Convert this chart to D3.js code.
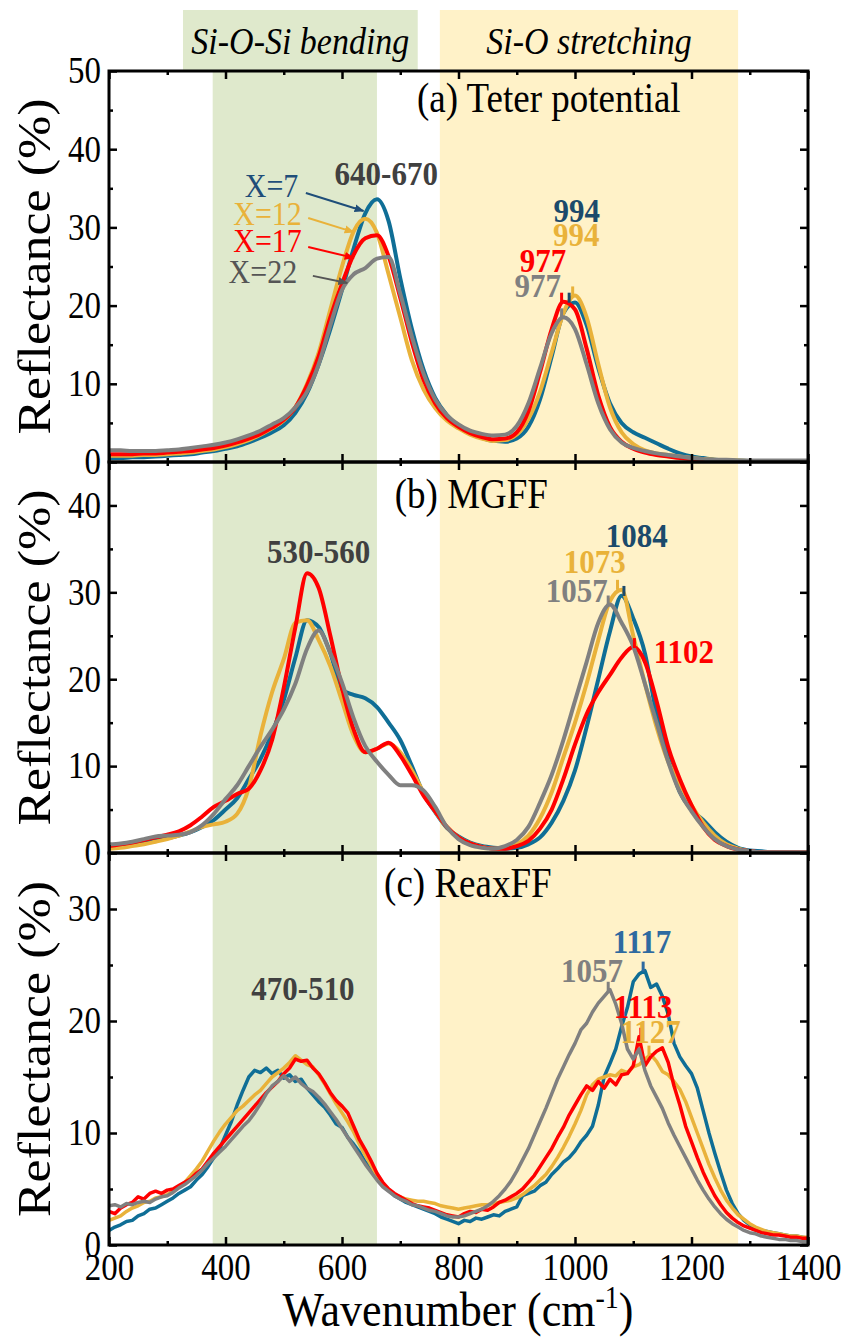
<!DOCTYPE html>
<html lang="en">
<head>
<meta charset="UTF-8">
<title>Reflectance spectra</title>
<script src="https://d3js.org/d3.v7.min.js"></script>
<style>
  body { margin: 0; background: #fff; }
  svg text { font-family: "Liberation Serif", "Times New Roman", serif; }
</style>
</head>
<body>
<svg id="chart" width="848" height="1338"></svg>
<script>
// sampling grids (cm-1)
const wn20 = d3.range(200, 1401, 20);
const wn10 = d3.range(200, 1401, 10);

const seriesNames = ["X=7", "X=12", "X=17", "X=22"];
const seriesColors = ["#0f6e96", "#e9b23a", "#ff0000", "#808080"];

// (a) Teter potential
const aBlue = [0.5,0.5,0.6,0.6,0.7,0.8,0.9,1.0,1.2,1.4,
  1.7,2.0,2.5,3.1,3.8,4.7,6.3,8.8,12.5,17.0,
  22.0,27.3,31.8,33.6,30.8,23.5,17.0,11.8,8.2,6.0,
  4.6,3.7,3.1,2.7,2.6,3.0,4.5,8.0,13.5,19.0,
  20.4,17.5,12.0,7.5,5.0,3.8,3.1,2.4,1.7,1.1,
  0.7,0.5,0.3,0.2,0.2,0.1,0.1,0.1,0.1,0.1,0.1];
const aOrange = [0.8,0.8,0.8,0.9,0.9,1.0,1.1,1.2,1.4,1.6,
  1.9,2.3,2.8,3.5,4.3,5.3,7.0,10.0,14.0,19.5,
  25.0,29.5,31.1,29.3,24.0,18.5,13.0,9.3,6.9,5.3,
  4.3,3.5,3.0,2.7,2.8,3.5,5.5,9.0,14.0,19.0,
  21.3,18.5,12.5,7.0,3.8,2.3,1.5,1.1,0.9,0.7,
  0.5,0.4,0.3,0.2,0.2,0.1,0.1,0.1,0.1,0.1,0.1];
const aRed = [1.0,1.0,1.0,1.1,1.1,1.2,1.3,1.4,1.6,1.8,
  2.1,2.5,3.0,3.6,4.4,5.4,7.0,9.8,13.5,18.5,
  22.8,26.5,28.6,29.0,26.3,21.0,15.3,10.5,7.5,5.6,
  4.5,3.7,3.2,2.9,3.0,3.8,6.5,11.5,17.0,20.5,
  19.5,14.5,8.5,4.5,2.6,1.7,1.2,0.9,0.7,0.5,
  0.4,0.3,0.2,0.2,0.1,0.1,0.1,0.1,0.1,0.1,0.1];
const aGray = [1.5,1.5,1.4,1.4,1.4,1.5,1.6,1.8,2.0,2.2,
  2.5,2.9,3.4,4.0,4.8,5.6,7.0,9.0,12.5,17.5,
  22.0,24.0,24.8,26.0,26.2,21.5,16.0,11.3,8.0,6.0,
  4.8,4.0,3.6,3.4,3.5,4.6,7.5,12.0,16.5,18.5,
  17.0,12.5,7.5,4.2,2.5,1.8,1.4,1.1,0.9,0.7,
  0.5,0.4,0.3,0.3,0.2,0.2,0.2,0.2,0.2,0.2,0.2];

// (b) MGFF
const bBlue = [0.8,0.9,1.1,1.3,1.5,1.7,2.0,2.4,3.0,3.8,
  5.0,6.3,8.5,10.8,13.8,17.6,22.5,26.8,26.0,23.0,
  18.8,18.2,17.8,16.8,15.0,13.0,10.0,6.8,4.7,2.9,
  1.9,1.2,0.8,0.6,0.5,0.6,1.0,1.8,3.5,6.0,
  9.5,14.5,20.0,25.5,29.6,27.0,23.0,16.0,11.0,7.0,
  5.0,3.8,2.4,1.3,0.6,0.3,0.2,0.1,0.1,0.1,0.1];
const bOrange = [0.5,0.6,0.8,1.0,1.3,1.6,2.0,2.5,3.0,3.3,
  3.6,4.5,7.5,13.5,18.5,22.3,26.5,26.8,24.5,21.5,
  17.5,13.5,11.6,12.0,12.6,11.6,9.5,7.0,4.8,3.0,
  1.8,1.1,0.7,0.5,0.6,1.0,2.0,4.0,7.0,11.0,
  15.0,19.5,24.5,29.0,30.3,25.0,19.5,14.5,10.5,8.0,
  5.5,3.5,2.0,1.0,0.5,0.2,0.1,0.1,0.1,0.1,0.1];
const bRed = [0.8,1.0,1.2,1.5,1.8,2.1,2.5,3.2,4.2,5.3,
  6.0,6.8,7.4,9.5,13.0,19.0,26.0,32.2,30.5,25.0,
  19.0,14.2,11.6,12.0,12.7,11.2,9.0,6.6,4.8,3.0,
  1.8,1.1,0.7,0.5,0.5,0.8,1.4,2.8,5.0,8.5,
  12.5,16.0,18.5,20.5,22.5,23.7,22.0,17.5,12.2,8.5,
  5.5,3.0,1.5,0.8,0.4,0.2,0.1,0.1,0.1,0.1,0.1];
const bGray = [1.0,1.1,1.3,1.6,1.9,2.0,2.1,2.4,3.2,4.5,
  6.2,7.8,10.0,12.2,14.2,16.5,19.5,23.5,25.6,23.0,
  19.6,15.5,12.3,10.5,9.0,7.8,7.8,7.2,5.3,3.0,
  1.6,0.9,0.6,0.5,0.8,1.5,3.0,5.8,9.0,13.0,
  17.5,22.0,26.5,28.6,26.5,23.8,19.5,15.0,10.5,7.0,
  4.8,3.0,1.6,0.8,0.4,0.2,0.1,0.1,0.1,0.1,0.1];

// (c) ReaxFF
const cBlue = [1.3,1.6,1.8,2.1,2.2,2.6,2.8,3.2,3.3,3.6,
  3.9,4.2,4.6,4.9,5.2,5.8,6.3,7.0,7.8,8.6,
  9.8,11.0,12.5,13.8,15.0,15.6,15.4,15.8,15.3,15.6,
  14.9,15.2,14.6,14.8,14.0,13.4,12.8,12.3,11.6,10.8,
  10.5,9.6,9.0,8.3,7.4,6.9,6.1,5.3,4.9,4.4,
  4.1,3.8,3.6,3.4,3.2,3.0,2.8,2.5,2.3,2.1,
  1.9,2.2,2.1,2.4,2.3,2.5,2.7,2.6,3.0,3.2,
  3.4,4.4,4.6,4.8,5.3,5.6,6.3,6.8,7.4,7.8,
  8.4,9.2,9.8,10.6,12.5,15.0,16.2,17.5,19.5,21.2,
  23.5,24.2,24.5,23.0,23.3,22.2,20.6,18.0,16.8,16.0,
  15.3,14.0,12.0,10.0,8.2,6.5,4.9,3.7,2.8,2.2,
  1.8,1.5,1.3,1.2,1.1,1.0,0.9,0.8,0.8,0.7,
  0.6];
const cOrange = [2.2,2.4,2.6,3.0,3.3,3.5,3.8,3.9,4.2,4.3,
  4.5,4.8,5.2,5.6,6.2,6.8,7.5,8.4,9.3,10.1,
  10.8,11.4,12.0,12.4,12.9,13.4,13.8,14.4,15.0,15.4,
  15.8,16.3,16.9,16.5,16.1,15.9,15.2,14.4,13.5,12.6,
  11.8,11.0,10.1,9.0,8.0,7.1,6.2,5.4,4.9,4.5,
  4.3,4.1,4.0,3.9,3.9,3.8,3.7,3.5,3.4,3.3,
  3.2,3.3,3.4,3.5,3.6,3.6,3.7,3.8,3.9,4.0,
  4.2,4.5,4.9,5.3,5.8,6.3,7.0,7.8,8.7,9.7,
  10.8,12.0,13.4,14.3,14.8,15.0,15.2,15.1,15.6,15.4,
  15.9,16.1,16.6,17.0,16.4,15.5,15.2,14.6,13.9,12.8,
  11.4,10.0,8.6,7.2,6.0,4.9,4.0,3.3,2.7,2.3,
  1.9,1.6,1.4,1.2,1.1,1.0,0.9,0.8,0.8,0.7,
  0.7];
const cRed = [3.0,2.8,3.3,3.6,3.8,4.3,4.1,4.6,4.8,4.6,
  4.9,5.0,5.3,5.6,5.9,6.4,6.8,7.5,8.2,8.8,
  9.4,10.0,10.6,11.2,11.8,12.4,13.0,13.6,14.1,14.6,
  15.3,15.8,16.6,16.4,16.5,15.8,15.3,14.5,13.6,12.9,
  12.4,11.8,10.6,9.4,8.5,7.5,6.4,5.6,5.0,4.6,
  4.3,4.0,3.7,3.5,3.4,3.3,3.1,2.9,2.7,2.6,
  2.5,2.8,3.0,2.9,3.2,3.1,3.4,3.8,4.0,4.3,
  4.6,5.0,5.6,6.2,7.0,7.8,8.6,9.6,10.5,11.6,
  12.5,13.4,14.2,13.8,14.6,14.0,14.8,14.3,15.2,15.3,
  16.0,18.6,16.0,16.8,17.3,17.6,16.3,14.2,12.5,10.6,
  9.2,7.8,6.5,5.4,4.4,3.6,2.9,2.4,2.0,1.7,
  1.5,1.3,1.1,1.0,0.9,0.9,0.8,0.7,0.7,0.6,
  0.6];
const cGray = [3.5,3.6,3.4,3.7,3.6,3.8,3.9,3.8,4.1,4.3,
  4.4,4.7,5.1,5.4,5.8,6.2,6.7,7.3,7.8,8.3,
  8.8,9.4,10.0,10.6,11.1,11.8,12.6,13.5,14.2,14.6,
  15.1,14.6,15.0,14.4,14.0,13.7,13.2,12.6,11.9,11.2,
  10.4,9.6,8.8,8.0,7.2,6.5,5.8,5.2,4.8,4.4,
  4.1,3.9,3.6,3.5,3.3,3.1,3.0,2.8,2.6,2.5,
  2.5,2.6,2.8,3.0,3.2,3.5,3.9,4.4,5.0,5.7,
  6.6,7.6,8.6,9.8,11.0,12.2,13.5,14.8,15.9,17.0,
  18.0,19.2,19.8,20.8,21.6,22.2,22.8,21.5,19.8,17.5,
  16.6,17.5,15.6,14.2,13.2,12.2,10.9,9.8,8.8,7.8,
  6.8,5.8,4.9,4.1,3.4,2.8,2.3,1.9,1.6,1.3,
  1.1,1.0,0.8,0.7,0.6,0.5,0.5,0.4,0.4,0.3,
  0.3];

// tick values
const xMajor = [200, 400, 600, 800, 1000, 1200, 1400];
const xMinor = [300, 500, 700, 900, 1100, 1300];

// shaded regions (cm-1)
const bendBand = [378, 660];
const bendHead = [327, 730];
const stretchBand = [768, 1280];
const stretchHead = [768, 1280];

// peak markers [wavenumber, reflectance, colour]
const peaksA = [[990, 20.5, "#1b4a6b"], [996, 21.3, "#e9b23a"], [977, 20.5, "#ff0000"], [977, 18.5, "#808080"]];
const peaksB = [[1057, 28.6, "#808080"], [1073, 30.4, "#e9b23a"], [1084, 29.7, "#1b4a6b"], [1102, 23.7, "#ff0000"]];
const peaksC = [[1057, 22.7, "#808080"], [1117, 24.5, "#2e6aa0"], [1113, 18.6, "#ff0000"], [1127, 17.0, "#e9b23a"]];

// peak labels [text, wavenumber, reflectance, colour]
const labelsA = [["640-670", 676, 35.4, "#404040"], ["994", 1003, 30.7, "#1b4a6b"], ["994", 1002, 27.6, "#e9b23a"],
  ["977", 945, 24.3, "#ff0000"], ["977", 936, 21.1, "#808080"]];
const labelsB = [["530-560", 560, 33.4, "#404040"], ["1084", 1106, 35.2, "#1b4a6b"], ["1073", 1034, 32.2, "#e9b23a"],
  ["1057", 1003, 28.9, "#808080"], ["1102", 1187, 21.9, "#ff0000"]];
const labelsC = [["470-510", 533, 21.9, "#404040"], ["1117", 1115, 26.1, "#2e6aa0"], ["1057", 1029, 23.5, "#808080"],
  ["1113", 1117, 20.3, "#ff0000"], ["1127", 1130, 18.0, "#e9b23a"]];

// X= legend arrows in panel (a): [text, text end wn, baseline, arrow start, arrow tip, colour]
const arrowsA = [
  ["X=7", 525, 33.9, [538, 34.4], [637, 32.1], "#1f4e79"],
  ["X=12", 531, 30.3, [542, 31.2], [620, 29.4], "#e9b23a"],
  ["X=17", 531, 26.9, [542, 27.5], [620, 26.1], "#ff0000"],
  ["X=22", 523, 22.9, [550, 23.8], [609, 22.9], "#555555"]
];

const svg = d3.select("#chart");
const x = d3.scaleLinear().domain([200, 1400]).range([109, 808]);
const plotTop = 71, plotBottom = 1245, headTop = 10;
const stretch = 1.12; // source figure text is drawn a bit tall

// move x/y into a transform so the glyphs can be stretched vertically
function tall(sel) {
  sel.each(function () {
    const t = d3.select(this);
    const tx = +t.attr("x") || 0, ty = +t.attr("y") || 0;
    t.attr("x", null).attr("y", null)
      .attr("transform", `translate(${tx},${ty}) scale(1,${stretch})`);
  });
}

const panels = [
  { key: "a", top: 71, bottom: 462, ymax: 50, major: [0,10,20,30,40,50], minor: [5,15,25,35,45],
    wn: wn20, series: [aBlue, aOrange, aRed, aGray], curve: d3.curveMonotoneX, width: 4,
    title: "(a) Teter potential", titlePos: [955, 44.8], peaks: peaksA, labels: labelsA },
  { key: "b", top: 462, bottom: 853, ymax: 45, major: [0,10,20,30,40], minor: [5,15,25,35],
    wn: wn20, series: [bBlue, bOrange, bRed, bGray], curve: d3.curveMonotoneX, width: 4,
    title: "(b) MGFF", titlePos: [822, 39.7], peaks: peaksB, labels: labelsB },
  { key: "c", top: 853, bottom: 1245, ymax: 35, major: [0,10,20,30], minor: [5,15,25],
    wn: wn10, series: [cBlue, cOrange, cRed, cGray], curve: d3.curveLinear, width: 3.5,
    title: "(c) ReaxFF", titlePos: [816, 31.1], peaks: peaksC, labels: labelsC }
];

const green = "#dfe9cc", yellow = "#fff2c8";

// header boxes
svg.append("rect").attr("x", x(bendHead[0])).attr("y", headTop)
  .attr("width", x(bendHead[1]) - x(bendHead[0])).attr("height", plotTop - headTop).attr("fill", green);
svg.append("rect").attr("x", x(stretchHead[0])).attr("y", headTop)
  .attr("width", x(stretchHead[1]) - x(stretchHead[0])).attr("height", plotTop - headTop).attr("fill", yellow);
// bands through all panels
svg.append("rect").attr("x", x(bendBand[0])).attr("y", plotTop)
  .attr("width", x(bendBand[1]) - x(bendBand[0])).attr("height", plotBottom - plotTop).attr("fill", green);
svg.append("rect").attr("x", x(stretchBand[0])).attr("y", plotTop)
  .attr("width", x(stretchBand[1]) - x(stretchBand[0])).attr("height", plotBottom - plotTop).attr("fill", yellow);

svg.append("text").attr("x", x((bendHead[0] + bendHead[1]) / 2)).attr("y", 54)
  .attr("text-anchor", "middle").attr("font-size", 34).attr("font-style", "italic").text("Si-O-Si bending")
  .call(tall);
svg.append("text").attr("x", x((stretchHead[0] + stretchHead[1]) / 2)).attr("y", 54)
  .attr("text-anchor", "middle").attr("font-size", 34).attr("font-style", "italic").text("Si-O stretching")
  .call(tall);

// arrow markers
const defs = svg.append("defs");
arrowsA.forEach((a, i) => {
  defs.append("marker").attr("id", "arr" + i).attr("viewBox", "0 0 10 10")
    .attr("refX", 9).attr("refY", 5).attr("markerWidth", 5).attr("markerHeight", 5)
    .attr("orient", "auto").attr("markerUnits", "strokeWidth")
    .append("path").attr("d", "M0,1 L10,5 L0,9 Z").attr("fill", a[5]);
});

panels.forEach(p => {
  const y = d3.scaleLinear().domain([0, p.ymax]).range([p.bottom, p.top]);

  defs.append("clipPath").attr("id", "clip-" + p.key).append("rect")
    .attr("x", x(200)).attr("y", p.top).attr("width", x(1400) - x(200)).attr("height", p.bottom - p.top);

  const line = d3.line().x((d, i) => x(p.wn[i])).y(d => y(d)).curve(p.curve);
  const g = svg.append("g").attr("clip-path", "url(#clip-" + p.key + ")");
  p.series.forEach((vals, i) => {
    g.append("path").datum(vals).attr("d", line).attr("fill", "none")
      .attr("stroke", seriesColors[i]).attr("stroke-width", p.width).attr("stroke-linejoin", "round");
  });

  // peak markers
  svg.selectAll(null).data(p.peaks).enter().append("line")
    .attr("x1", d => x(d[0])).attr("x2", d => x(d[0]))
    .attr("y1", d => y(d[1]) - 9).attr("y2", d => y(d[1]) + 1)
    .attr("stroke", d => d[2]).attr("stroke-width", 3);

  // peak labels
  svg.selectAll(null).data(p.labels).enter().append("text")
    .attr("x", d => x(d[1])).attr("y", d => y(d[2]))
    .attr("text-anchor", "middle").attr("font-size", 31).attr("font-weight", "bold")
    .attr("fill", d => d[3]).text(d => d[0])
    .call(tall);

  // panel title
  svg.append("text").attr("x", x(p.titlePos[0])).attr("y", y(p.titlePos[1]))
    .attr("text-anchor", "middle").attr("font-size", 37).text(p.title)
    .call(tall);

  // axes: inward ticks on all four sides
  const left = svg.append("g").attr("transform", `translate(${x(200)},0)`)
    .call(d3.axisLeft(y).tickValues(p.major).tickSize(-8).tickPadding(8).tickFormat(d3.format("d")));
  svg.append("g").attr("transform", `translate(${x(200)},0)`)
    .call(d3.axisLeft(y).tickValues(p.minor).tickSize(-4).tickFormat(""));
  svg.append("g").attr("transform", `translate(${x(1400)},0)`)
    .call(d3.axisRight(y).tickValues(p.major).tickSize(-8).tickFormat(""));
  svg.append("g").attr("transform", `translate(${x(1400)},0)`)
    .call(d3.axisRight(y).tickValues(p.minor).tickSize(-4).tickFormat(""));
  svg.append("g").attr("transform", `translate(0,${p.top})`)
    .call(d3.axisTop(x).tickValues(xMajor).tickSize(-8).tickFormat(""));
  svg.append("g").attr("transform", `translate(0,${p.top})`)
    .call(d3.axisTop(x).tickValues(xMinor).tickSize(-4).tickFormat(""));
  const bottom = svg.append("g").attr("transform", `translate(0,${p.bottom})`)
    .call(d3.axisBottom(x).tickValues(xMajor).tickSize(-8).tickPadding(9)
      .tickFormat(p.key === "c" ? d3.format("d") : ""));
  svg.append("g").attr("transform", `translate(0,${p.bottom})`)
    .call(d3.axisBottom(x).tickValues(xMinor).tickSize(-4).tickFormat(""));

  left.selectAll("text").attr("font-size", 33).attr("fill", "#000").call(tall);
  bottom.selectAll("text").attr("font-size", 33).attr("fill", "#000").call(tall);

  // frame
  svg.append("rect").attr("x", x(200)).attr("y", p.top)
    .attr("width", x(1400) - x(200)).attr("height", p.bottom - p.top)
    .attr("fill", "none").attr("stroke", "#000").attr("stroke-width", 3);

  // y-axis title, stretched along its length like the source
  svg.append("text")
    .attr("transform", `translate(50,${(p.top + p.bottom) / 2}) scale(1,1.13) rotate(-90)`)
    .attr("text-anchor", "middle").attr("font-size", 46).text("Reflectance (%)");

  if (p.key === "a") {
    arrowsA.forEach((a, i) => {
      svg.append("text").attr("x", x(a[1])).attr("y", y(a[2]))
        .attr("text-anchor", "end").attr("font-size", 30).attr("fill", a[5]).text(a[0])
        .call(tall);
      svg.append("line").attr("x1", x(a[3][0])).attr("y1", y(a[3][1]))
        .attr("x2", x(a[4][0])).attr("y2", y(a[4][1]))
        .attr("stroke", a[5]).attr("stroke-width", 2).attr("marker-end", `url(#arr${i})`);
    });
  }
});

svg.selectAll(".domain").attr("display", "none");
svg.selectAll(".tick line").attr("stroke", "#000").attr("stroke-width", 2.5);

// x-axis title
const xt = svg.append("text").attr("x", 458).attr("y", 1326).attr("text-anchor", "middle").attr("font-size", 44);
xt.append("tspan").text("Wavenumber (cm");
xt.append("tspan").attr("dy", -16).attr("font-size", 28).text("-1");
xt.append("tspan").attr("dy", 16).text(")");
xt.call(tall);
</script>
</body>
</html>
